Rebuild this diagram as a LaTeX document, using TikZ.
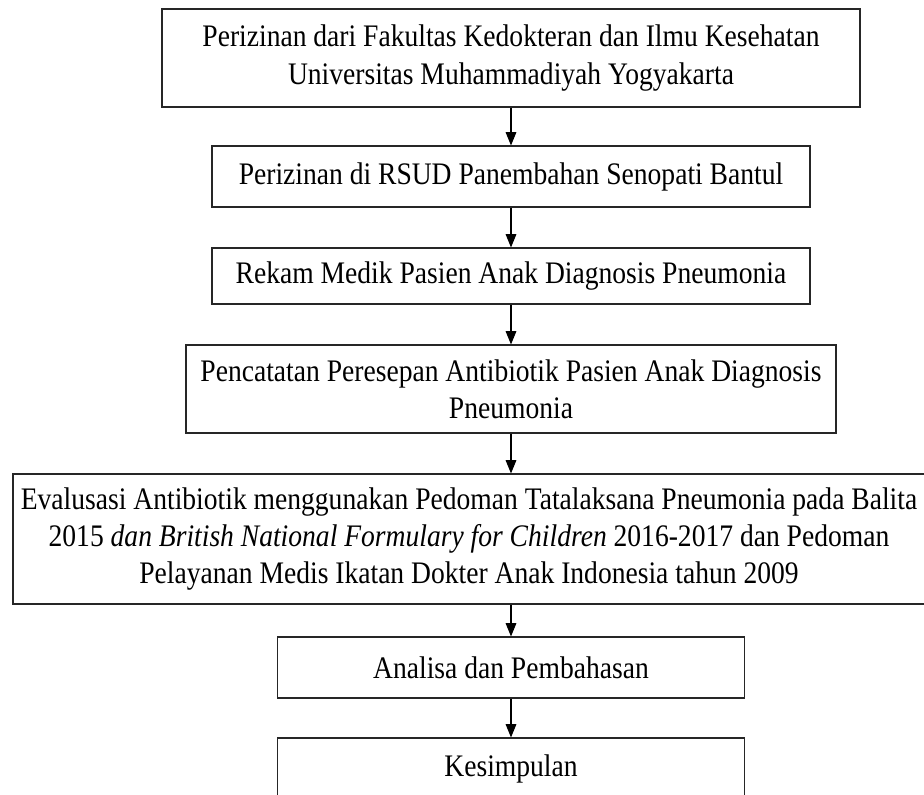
\documentclass[tikz,border=0pt]{standalone}
\usepackage{fontspec}
\setmainfont{Liberation Serif}[FakeStretch=0.88]
\usetikzlibrary{arrows.meta}
\tikzset{
  flowbox/.style={draw=black!85, line width=0.8pt, align=center, inner sep=0pt,
    font=\fontsize{23.5}{28}\selectfont},
  flowarrow/.style={draw=black, line width=0.8pt, -{Triangle[length=10pt,width=8pt]}}
}
\begin{document}
\begin{tikzpicture}[x=0.75pt,y=-0.75pt]
\useasboundingbox (0,0) rectangle (924,795);
\node[flowbox, minimum width=523.5pt, minimum height=73.5pt] (b1) at (511,58)
  {Perizinan dari Fakultas Kedokteran dan Ilmu Kesehatan\\Universitas Muhammadiyah Yogyakarta};
\node[flowbox, minimum width=448.5pt, minimum height=45.75pt] (b2) at (511,176.5)
  {Perizinan di RSUD Panembahan Senopati Bantul};
\node[flowbox, minimum width=448.5pt, minimum height=42pt] (b3) at (511,276)
  {Rekam Medik Pasien Anak Diagnosis Pneumonia};
\node[flowbox, minimum width=487.5pt, minimum height=66pt] (b4) at (511,389)
  {Pencatatan Peresepan Antibiotik Pasien Anak Diagnosis\\Pneumonia};
\node[flowbox, minimum width=684pt, minimum height=97.5pt] (b5) at (469,539)
  {Evalusasi Antibiotik menggunakan Pedoman Tatalaksana Pneumonia pada Balita\\
   2015 \textit{dan British National Formulary for Children} 2016-2017 dan Pedoman\\
   Pelayanan Medis Ikatan Dokter Anak Indonesia tahun 2009};
\coordinate (b5n) at (b5.north -| b1.south);
\coordinate (b5s) at (b5.south -| b1.south);
\node[flowbox, minimum width=350.25pt, minimum height=45.75pt] (b6) at (511,667.5)
  {Analisa dan Pembahasan};
\node[flowbox, minimum width=350.25pt, minimum height=45.75pt] (b7) at (511,768.5)
  {Kesimpulan};
\draw[flowarrow] (b1) -- (b2);
\draw[flowarrow] (b2) -- (b3);
\draw[flowarrow] (b3) -- (b4);
\draw[flowarrow] (b4) -- (b5n);
\draw[flowarrow] (b5s) -- (b6);
\draw[flowarrow] (b6) -- (b7);
\end{tikzpicture}
\end{document}
